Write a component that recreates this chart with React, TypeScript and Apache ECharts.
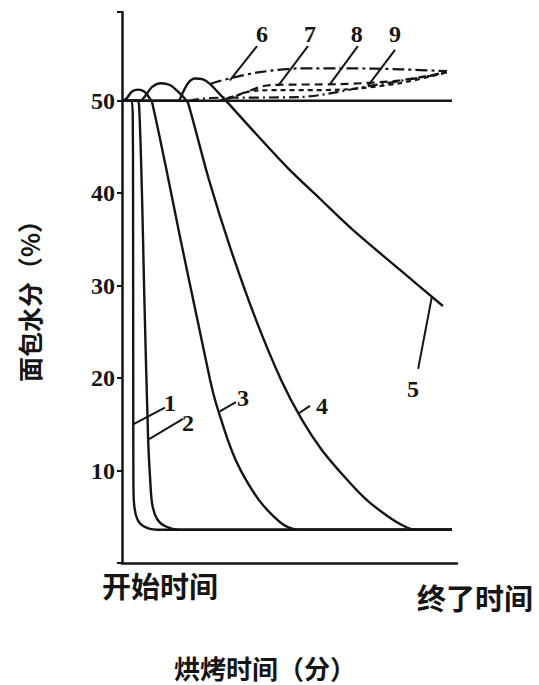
import React, { useEffect, useRef } from "react";
import * as echarts from "echarts";

// ---- data (x: baking time 0..100 = start..end, y: moisture %) ----
const curveNames = ["1", "2", "3", "4", "5", "6", "7", "8", "9"];

const curve1 = [[0, 50], [2.6, 50], [3.2, 48.5], [3.3, 40], [3.35, 20], [3.4, 9.1], [3.6, 6.4], [4.5, 4.8], [6.3, 4.0], [10.4, 3.6], [98.5, 3.6]];
const curve2 = [[0, 50], [4.5, 50], [5.1, 49.5], [6.0, 39.4], [6.6, 29.7], [7.8, 13.4], [8.4, 9.1], [9.0, 6.4], [10.4, 4.8], [12.8, 4.0], [17.3, 3.6], [98.5, 3.6]];
const curve3 = [[0, 50], [1.2, 50.2], [3.0, 51.0], [4.8, 51.2], [6.6, 51.0], [8.4, 50.2], [9.0, 49.8], [13.4, 42.3], [17.3, 35.3], [22.7, 26.0], [26.3, 19.8], [27.8, 17.6], [29.6, 15.5], [31.6, 13.3], [34.0, 11.1], [37.0, 9.0], [40.9, 6.8], [44.8, 5.2], [48.4, 4.1], [52.5, 3.6], [98.5, 3.6]];
const curve4 = [[0, 50], [5.4, 50], [6.9, 50.5], [9.0, 51.5], [11.6, 51.9], [14.3, 51.7], [16.7, 51.0], [18.8, 50.2], [19.7, 49.8], [26.0, 41.4], [32.5, 33.9], [40.0, 26.3], [47.5, 19.8], [53.7, 15.5], [59.7, 12.2], [67.2, 9.0], [73.1, 6.8], [78.8, 5.2], [83.6, 4.1], [87.5, 3.6], [98.5, 3.6]];
const curve5 = [[0, 50], [16.7, 50], [17.9, 50.7], [19.7, 51.9], [21.8, 52.4], [24.2, 52.3], [26.3, 51.8], [28.7, 50.9], [31.3, 49.9], [40.3, 46.3], [49.3, 42.8], [59.1, 39.4], [69.0, 36.0], [83.0, 31.7], [95.8, 27.8]];
const curve6 = [[26.3, 51.8], [27.8, 52.0], [33.1, 52.5], [41.2, 53.1], [53.1, 53.5], [68.1, 53.5], [83.0, 53.4], [97.0, 53.2]];
const curve7 = [[31.0, 50.2], [35.2, 50.7], [44.2, 51.7], [65.1, 51.8], [83.0, 52.2], [97.0, 53.1]];
const curve8 = [[29.0, 50.0], [32.2, 50.3], [39.7, 51.1], [65.1, 51.2], [83.0, 51.9], [97.0, 53.1]];
const curve9 = [[20.0, 50.0], [26.3, 50.3], [53.1, 50.4], [74.0, 51.6], [97.0, 53.0]];
const baseline50 = [[0, 50], [98.5, 50]];

// label anchor positions (data coords) and leader lines
const labelAnchors = [[14.3, 17.3], [19.7, 15.1], [36.1, 17.8], [59.7, 17.0], [86.9, 18.8], [41.8, 57.2], [56.1, 57.2], [70.1, 57.2], [81.5, 57.2]];
const pointers = [
  [[3.3, 15.0], [12.8, 16.8]],
  [[8.1, 13.4], [18.2, 15.6]],
  [[29.2, 16.4], [34.0, 17.4]],
  [[52.8, 16.2], [56.1, 17.0]],
  [[92.5, 28.8], [88.4, 21.0]],
  [[32.2, 52.2], [40.3, 55.9]],
  [[46.6, 51.6], [55.5, 55.9]],
  [[62.1, 51.8], [70.4, 55.9]],
  [[73.4, 51.6], [81.5, 55.5]],
];

const yTickLabels = [10, 20, 30, 40, 50];
const xEndLabels = ["开始时间", "终了时间"];
const xAxisTitle = "烘烤时间（分）";
const yAxisTitle = "面包水分（%）";

export default function App() {
  const ref = useRef<HTMLDivElement>(null);
  useEffect(() => {
    const chart = echarts.init(ref.current!, undefined, { renderer: "svg" });
    const INK = "#151515";
    const line = (name: string, data: number[][], type: any = "solid", width = 2.4, smooth: any = 0.3) => ({
      type: "line",
      name,
      data,
      symbol: "none",
      showSymbol: false,
      smooth,
      silent: true,
      lineStyle: { color: INK, width, type },
      z: 3,
    });
    const curves = [curve1, curve2, curve3, curve4, curve5];
    const dashed = [
      { d: curve6, t: [12, 4, 3, 4] },
      { d: curve7, t: [8, 5] },
      { d: curve8, t: [5, 4] },
      { d: curve9, t: [10, 4, 2, 4] },
    ];
    const series: any[] = [];
    series.push(line("base", baseline50, "solid", 2.6, false));
    curves.forEach((c, i) => series.push(line(curveNames[i], c)));
    dashed.forEach((c, i) => series.push(line(curveNames[i + 5], c.d, c.t, 2.2)));
    pointers.forEach((p, i) => series.push(line("p" + curveNames[i], p, "solid", 2, false)));

    const fontNum = 'bold 24px "Liberation Serif", "DejaVu Serif", serif';
    const fontCJK = '"Noto Sans CJK SC", sans-serif';

    chart.setOption({
      animation: false,
      backgroundColor: "#ffffff",
      grid: { left: 122, top: 12, right: 82, bottom: 122, containLabel: false },
      xAxis: {
        type: "value",
        min: 0,
        max: 100,
        axisLine: { show: true, lineStyle: { color: INK, width: 2.5 } },
        axisTick: { show: false },
        axisLabel: { show: false },
        splitLine: { show: false },
      },
      yAxis: {
        type: "value",
        min: 0,
        max: 59.6,
        interval: 10,
        axisLine: { show: true, onZero: false, lineStyle: { color: INK, width: 2.5 } },
        axisTick: { show: true, inside: false, length: 5, lineStyle: { color: INK, width: 2 } },
        axisLabel: {
          show: true,
          margin: 7,
          color: INK,
          fontSize: 24,
          fontWeight: "bold",
          fontFamily: '"Liberation Serif", serif',
          formatter: (v: number) => (yTickLabels.indexOf(v) >= 0 ? String(v) : ""),
        },
        splitLine: { show: false },
      },
      series,
    });

    const numberTexts = labelAnchors.map((p, i) => {
      const pt = chart.convertToPixel({ gridIndex: 0 }, p) as number[];
      return {
        type: "text",
        x: pt[0],
        y: pt[1],
        z: 10,
        style: { text: curveNames[i], font: fontNum, fill: INK, align: "center", verticalAlign: "middle", textAlign: "center", textVerticalAlign: "middle" },
      };
    });

    chart.setOption({
      graphic: [
        ...numberTexts,
        {
          type: "text", x: 160, y: 585, z: 10,
          style: { text: xEndLabels[0], font: `bold 29px ${fontCJK}`, fill: INK, align: "center", verticalAlign: "middle", textAlign: "center", textVerticalAlign: "middle" },
        },
        {
          type: "text", x: 475, y: 597, z: 10,
          style: { text: xEndLabels[1], font: `bold 29px ${fontCJK}`, fill: INK, align: "center", verticalAlign: "middle", textAlign: "center", textVerticalAlign: "middle" },
        },
        {
          type: "text", x: 265, y: 667, z: 10,
          style: { text: xAxisTitle, font: `bold 26px ${fontCJK}`, fill: INK, align: "center", verticalAlign: "middle", textAlign: "center", textVerticalAlign: "middle" },
        },
        {
          type: "text", x: 29, y: 295, z: 10, rotation: Math.PI / 2,
          style: { text: yAxisTitle, font: `bold 25px ${fontCJK}`, fill: INK, align: "center", verticalAlign: "middle", textAlign: "center", textVerticalAlign: "middle" },
        },
      ],
    });

    return () => chart.dispose();
  }, []);
  return <div ref={ref} style={{ position: "fixed", left: 0, top: 0, width: 539, height: 685, background: "#fff" }} />;
}
